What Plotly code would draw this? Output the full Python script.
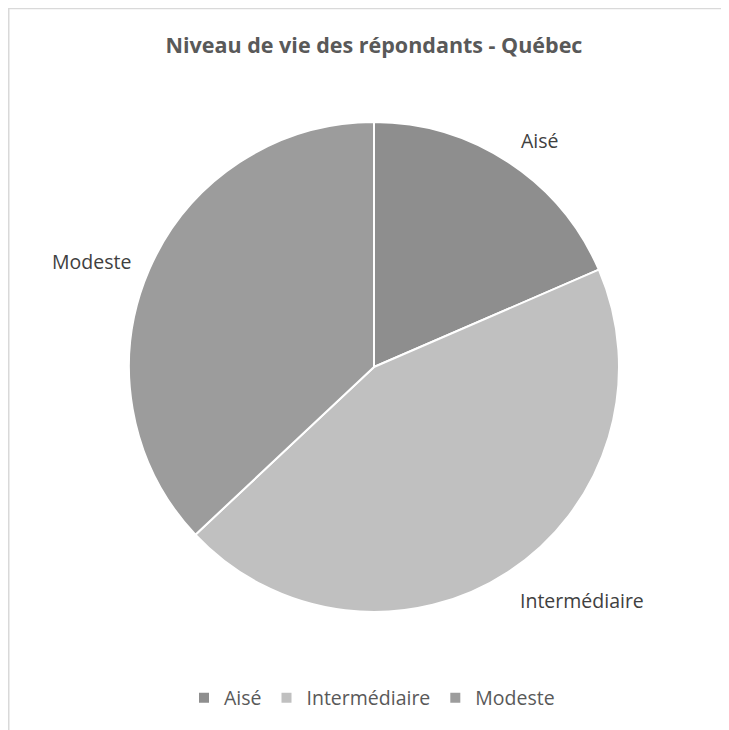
"""Niveau de vie des répondants - Québec (pie)."""
import plotly.graph_objects as go

# page body has an 8px margin, so the figure is a little smaller
OFF = 8
W, H = 721, 722

LABELS = ["Aisé", "Intermédiaire", "Modeste"]
VALUES = [18.5, 44.5, 37.0]
COLORS = ["#8e8e8e", "#c0c0c0", "#9c9c9c"]

TITLE = "Niveau de vie des répondants - Québec"
FONT = "Open Sans"

# label centres on screen (px)
LABEL_POS = {"Aisé": (540, 140), "Intermédiaire": (582, 600), "Modeste": (91, 262)}


def px_x(p):
    return (p - OFF) / W


def px_y(p):
    return 1 - (p - OFF) / H


fig = go.Figure(go.Pie(
    labels=LABELS, values=VALUES, sort=False, direction="clockwise",
    rotation=0, marker=dict(colors=COLORS, line=dict(color="white", width=2)),
    textinfo="none",
    domain=dict(x=[px_x(129), px_x(619)], y=[px_y(612), px_y(122)]),
    hoverinfo="label+percent",
))

for lab in LABELS:
    x, y = LABEL_POS[lab]
    fig.add_annotation(text=lab, x=px_x(x), y=px_y(y), xref="paper", yref="paper",
                       xanchor="center", yanchor="middle", showarrow=False,
                       font=dict(family=FONT, size=19.5, color="#404040"))

fig.update_layout(
    width=W, height=H, margin=dict(l=0, r=0, t=0, b=0),
    paper_bgcolor="white", plot_bgcolor="white",
    font=dict(family=FONT, color="#595959"),
    title=dict(text=f"<b>{TITLE}</b>", x=px_x(374), xanchor="center",
               y=px_y(45), yanchor="middle",
               font=dict(family=FONT, size=21.5, color="#595959")),
    showlegend=True,
    legend=dict(orientation="h", x=px_x(372), xanchor="center",
                y=px_y(698), yanchor="middle",
                font=dict(family=FONT, size=19.5, color="#595959"),
                itemwidth=30, tracegroupgap=0),
    shapes=[
        dict(type="line", xref="paper", yref="paper", x0=0, x1=1,
             y0=0.9995, y1=0.9995, line=dict(color="#d9d9d9", width=2)),
        dict(type="line", xref="paper", yref="paper", x0=0.0007, x1=0.0007,
             y0=1, y1=0, line=dict(color="#d9d9d9", width=2)),
    ],
)

fig.write_html("out.html")
